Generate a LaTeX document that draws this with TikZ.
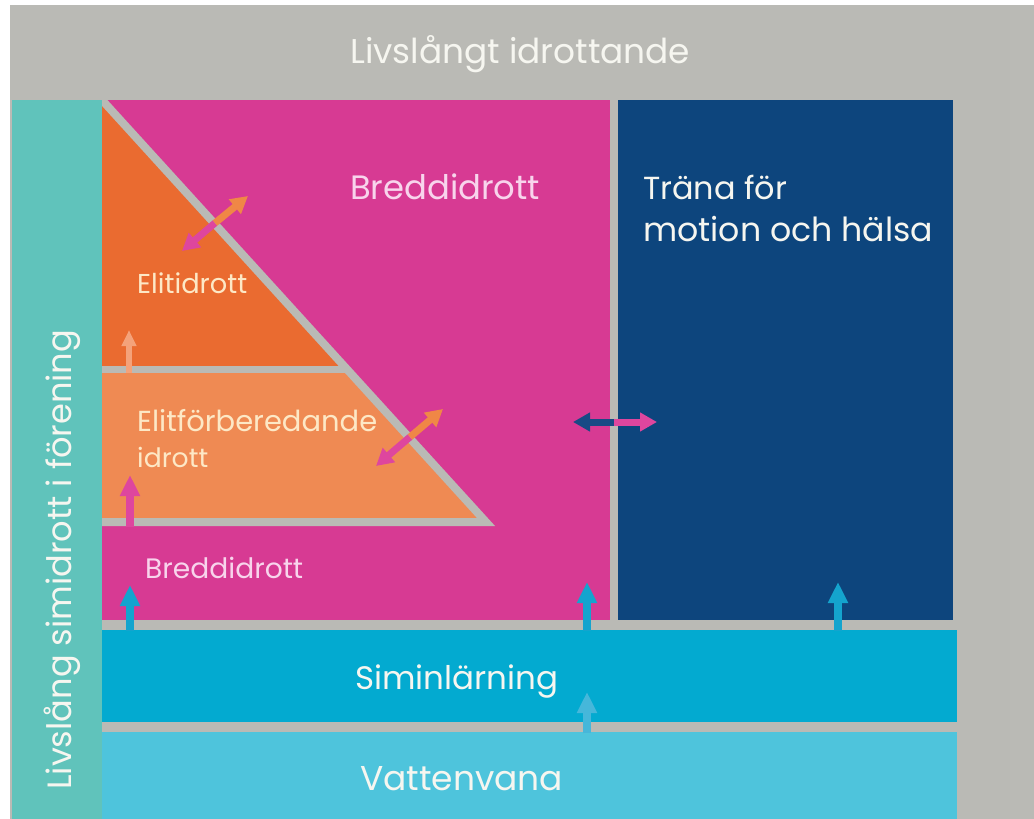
\documentclass[tikz,border=0pt]{standalone}
\usepackage{fontspec}
\setmainfont{Poppins}
\usetikzlibrary{arrows.meta}
\definecolor{bggray}{RGB}{186,186,181}
\definecolor{tealbar}{RGB}{96,195,187}
\definecolor{pinkbox}{RGB}{215,58,147}
\definecolor{navybox}{RGB}{13,69,125}
\definecolor{orangeD}{RGB}{234,107,48}
\definecolor{orangeL}{RGB}{239,138,83}
\definecolor{siminB}{RGB}{3,170,208}
\definecolor{vattenB}{RGB}{78,196,220}
\definecolor{arrPink}{RGB}{222,70,158}
\definecolor{arrOrange}{RGB}{240,135,70}
\definecolor{arrSalmon}{RGB}{244,162,122}
\definecolor{arrBlue}{RGB}{20,164,206}
\definecolor{arrLightBlue}{RGB}{70,183,218}
\definecolor{arrNavy}{RGB}{24,74,133}
\definecolor{txtWhite}{RGB}{246,246,240}
\definecolor{txtPink}{RGB}{248,212,236}
\definecolor{txtCream}{RGB}{253,232,198}
\newcommand{\fitto}[2]{\resizebox{#1pt}{!}{#2}}
\begin{document}
\begin{tikzpicture}[x=1pt,y=-1pt,
  txt/.style={inner sep=0pt, anchor=base west},
  uparrow/.style={line width=8pt, -{Triangle[width=19pt,length=21pt]}},
  smallup/.style={line width=6pt, -{Triangle[width=14pt,length=16pt]}},
  diagarrow/.style={line width=7pt, -{Triangle[width=18pt,length=17pt]}}]
\useasboundingbox (0,0) rectangle (1034,819);
\fill[white] (0,0) rectangle (1034,819);
% background
\fill[bggray] (10,5) rectangle (1034,819);
% left teal bar
\fill[tealbar] (12,100) rectangle (102,819);
% main boxes
\fill[pinkbox] (102,100) rectangle (610,620);
\fill[navybox] (618,100) rectangle (953,620);
\fill[siminB] (102,630) rectangle (957,722);
\fill[vattenB] (102,732) rectangle (957,819);
% pyramid
\begin{scope}
\clip (102,100) rectangle (610,620);
\fill[orangeL] (102,369) -- (347,369) -- (486,522) -- (102,522) -- cycle;
\fill[orangeD] (102,100) -- (347,369) -- (102,369) -- cycle;
\draw[bggray, line width=8pt, line join=miter] (102,522) -- (486,522) -- (102,100);
\draw[bggray, line width=7pt] (102,369) -- (347,369);
\end{scope}
% texts
\node[txt, text=txtWhite] (top) at (350,63) {\fitto{340}{Livslångt idrottande}};
\node[txt, text=txtPink] (bredd) at (350,199) {\fitto{190}{Breddidrott}};
\node[txt, text=txtWhite] (trana1) at (643,199) {\fitto{144}{Träna för}};
\node[txt, text=txtWhite] (trana2) at (643,241) {\fitto{290}{motion och hälsa}};
\node[txt, text=txtCream] (elit) at (137,293) {\fitto{110}{Elitidrott}};
\node[txt, text=txtCream] (elitf1) at (137,431) {\fitto{240}{Elitförberedande}};
\node[txt, text=txtCream] (elitf2) at (137,467) {\fitto{71}{idrott}};
\node[txt, text=txtPink] (bredd2) at (145,578) {\fitto{158}{Breddidrott}};
\node[txt, text=txtWhite] (simin) at (355,689) {\fitto{203}{Siminlärning}};
\node[txt, text=txtWhite] (vatten) at (360,790) {\fitto{203}{Vattenvana}};
\node[txt, text=txtWhite, rotate=90] (side) at (71,790) {\fitto{460}{Livslång simidrott i förening}};
% arrow coordinates
\coordinate (a1s) at (129,373); \coordinate (a1e) at (129,330);
\coordinate (a2s) at (130,527); \coordinate (a2e) at (130,475);
\coordinate (a3s) at (130,631); \coordinate (a3e) at (130,585);
\coordinate (a4s) at (587,631); \coordinate (a4e) at (587,582);
\coordinate (a5s) at (838,631); \coordinate (a5e) at (838,582);
\coordinate (a6s) at (587,733); \coordinate (a6e) at (587,692);
\coordinate (d1m) at (215,223); \coordinate (d1a) at (182,251); \coordinate (d1b) at (248,196);
\coordinate (d2m) at (410,437); \coordinate (d2a) at (376,466); \coordinate (d2b) at (443,409);
\coordinate (hm) at (614,422); \coordinate (hl) at (573,422); \coordinate (hr) at (657,422);
% vertical arrows
\draw[smallup, arrSalmon] (a1s) -- (a1e);
\draw[uparrow, arrPink] (a2s) -- (a2e);
\draw[uparrow, arrBlue] (a3s) -- (a3e);
\draw[uparrow, arrBlue] (a4s) -- (a4e);
\draw[uparrow, arrBlue] (a5s) -- (a5e);
\draw[uparrow, arrLightBlue] (a6s) -- (a6e);
% two-coloured double arrows
\draw[diagarrow, arrPink] (d1m) -- (d1a);
\draw[diagarrow, arrOrange] (d1m) -- (d1b);
\draw[diagarrow, arrPink] (d2m) -- (d2a);
\draw[diagarrow, arrOrange] (d2m) -- (d2b);
\draw[diagarrow, arrNavy] (hm) -- (hl);
\draw[diagarrow, arrPink] (hm) -- (hr);
\end{tikzpicture}
\end{document}
